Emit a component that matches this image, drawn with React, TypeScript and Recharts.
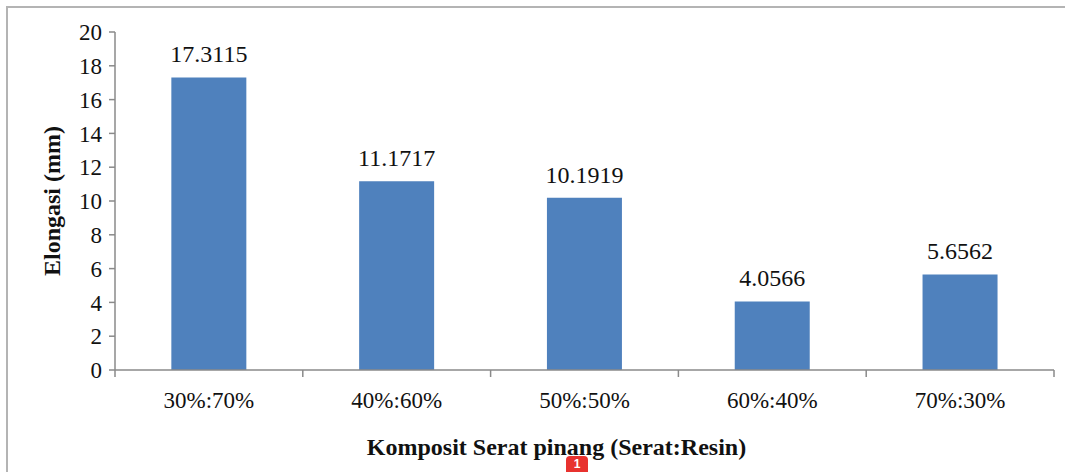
import React from "react";
import { BarChart, Bar, XAxis, YAxis, LabelList } from "recharts";

const categories = ["30%:70%", "40%:60%", "50%:50%", "60%:40%", "70%:30%"];
const elongationValues = [17.3115, 11.1717, 10.1919, 4.0566, 5.6562];
const yTicks = [0, 2, 4, 6, 8, 10, 12, 14, 16, 18, 20];

const data = categories.map((c, i) => ({ name: c, value: elongationValues[i] }));

const CHART_W = 1065;
const CHART_H = 472;
const Y_AXIS_W = 115;
const MARGIN = { top: 32, right: 11, left: 0, bottom: 0 };
const X_AXIS_H = 102;
const BAND = (CHART_W - Y_AXIS_W - MARGIN.right - MARGIN.left) / categories.length;
const AXIS_COLOR = "#8a8a8a";
const FONT = "'Liberation Serif', 'Times New Roman', serif";

const XTick = (props: any) => {
  const { x, y, payload, index } = props;
  return (
    <g>
      <line x1={x - BAND / 2} y1={y} x2={x - BAND / 2} y2={y + 7} stroke={AXIS_COLOR} strokeWidth={1.5} />
      {index === categories.length - 1 && (
        <line x1={x + BAND / 2} y1={y} x2={x + BAND / 2} y2={y + 7} stroke={AXIS_COLOR} strokeWidth={1.5} />
      )}
      <text x={x} y={y + 38} textAnchor="middle" style={{ fontFamily: FONT }} fontSize={23} fill="#111">
        {payload.value}
      </text>
    </g>
  );
};

const YLabel = (props: any) => {
  const vb = props.viewBox || { x: 0, y: 0, width: 0, height: 0 };
  const cx = 60;
  const cy = vb.y + vb.height / 2;
  return (
    <text
      x={cx}
      y={cy}
      transform={`rotate(-90, ${cx}, ${cy})`}
      textAnchor="middle"
      style={{ fontFamily: FONT }}
      fontWeight="bold"
      fontSize={24}
      fill="#111"
    >
      Elongasi (mm)
    </text>
  );
};

const XLabel = (props: any) => {
  const vb = props.viewBox || { x: 0, y: 0, width: 0, height: 0 };
  return (
    <text
      x={vb.x + vb.width / 2 - 28}
      y={vb.y + 85}
      textAnchor="middle"
      style={{ fontFamily: FONT }}
      fontWeight="bold"
      fontSize={24}
      fill="#111"
    >
      Komposit Serat pinang (Serat:Resin)
    </text>
  );
};

export default function App() {
  return (
    <div style={{ position: "absolute", left: 0, top: 0, width: CHART_W, height: CHART_H, background: "#fff", overflow: "hidden" }}>
      <div style={{ position: "absolute", left: 6, top: 6, width: CHART_W, height: CHART_H, borderLeft: "2px solid #b4b4b4", borderTop: "2px solid #b4b4b4" }} />
      <BarChart width={CHART_W} height={CHART_H} data={data} margin={MARGIN} barCategoryGap="30%">
        <XAxis
          dataKey="name"
          height={X_AXIS_H}
          axisLine={{ stroke: AXIS_COLOR, strokeWidth: 1.5 }}
          tickLine={false}
          tickSize={0}
          tickMargin={0}
          tick={<XTick />}
          interval={0}
          label={<XLabel />}
        />
        <YAxis
          width={Y_AXIS_W}
          domain={[0, 20]}
          ticks={yTicks}
          interval={0}
          axisLine={{ stroke: AXIS_COLOR, strokeWidth: 1.5 }}
          tickLine={{ stroke: AXIS_COLOR, strokeWidth: 1.5 }}
          tickSize={6}
          tickMargin={7}
          tick={{ fontFamily: FONT, fontSize: 23, fill: "#111" }}
          label={<YLabel />}
        />
        <Bar dataKey="value" fill="#4F81BD" isAnimationActive={false}>
          <LabelList
            dataKey="value"
            position="top"
            offset={15}
            formatter={(v: any) => String(v)}
            style={{ fontFamily: FONT, fontSize: 24, fill: "#111" }}
          />
        </Bar>
      </BarChart>
      <div
        style={{
          position: "absolute",
          left: 566,
          top: 456,
          width: 22,
          height: 16,
          background: "#e8322f",
          borderRadius: "4px 4px 0 0",
          color: "#fff",
          fontFamily: "'Liberation Sans', Arial, sans-serif",
          fontSize: 12,
          fontWeight: "bold",
          textAlign: "center",
          lineHeight: "17px",
        }}
      >
        1
      </div>
    </div>
  );
}
